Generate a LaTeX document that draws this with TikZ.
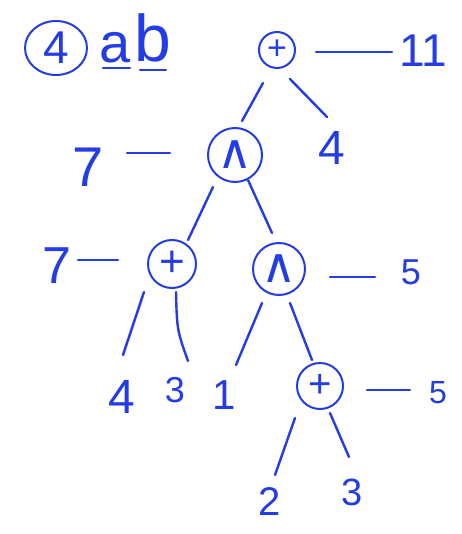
\documentclass[tikz,border=0pt]{standalone}
\usepackage{fontspec}
\setmainfont{Liberation Sans}
\newfontfamily\djv{DejaVu Sans}
\usetikzlibrary{shapes.geometric}
\definecolor{ink}{RGB}{35,60,228}
\newcommand{\fsz}[1]{\fontsize{#1}{#1}\selectfont}
\tikzset{
  ink/.style={draw=ink, line width=2.4pt, line cap=round},
  txt/.style={text=ink, inner sep=0pt, anchor=center},
  opnode/.style={circle, draw=ink, line width=2pt, inner sep=0pt, text=ink},
}
\begin{document}
\begin{tikzpicture}[x=1pt,y=-1pt]
\useasboundingbox (0,0) rectangle (461,534);
% header
\node[ellipse, draw=ink, line width=2pt, minimum width=62pt, minimum height=54pt, inner sep=0pt, text=ink] (c4) at (56,48) {\fsz{46}4};
\node[txt] (la) at (115,48) {\fsz{56}a};
\node[txt] (lb) at (153,38) {\fsz{66}b};
\draw[ink] ([shift={(-12,20)}]la.center) -- ([shift={(15,20)}]la.center);
\draw[ink] ([shift={(-13,32)}]lb.center) -- ([shift={(13,32)}]lb.center);
% operator nodes
\node[opnode, minimum size=36pt] (p0) at (277,50) {\fsz{34}+};
\node[opnode, minimum size=54pt] (a1) at (235,155) {\djv\fsz{48}∧};
\node[opnode, minimum size=48pt] (p1) at (172,264) {\fsz{44}+};
\node[opnode, minimum size=52pt] (a2) at (279,269) {\djv\fsz{48}∧};
\node[opnode, minimum size=46pt] (p2) at (320,386) {\fsz{40}+};
% value labels
\node[txt] (n11) at (423,51) {\fsz{46}11};
\node[txt] (n4a) at (332,148) {\fsz{48}4};
\node[txt] (n7a) at (88,167) {\fsz{56}7};
\node[txt] (n7b) at (57,266) {\fsz{52}7};
\node[txt] (n5a) at (411,272) {\fsz{36}5};
\node[txt] (n5b) at (438,393) {\fsz{32}5};
% leaves
\node[txt] (l4) at (122,397) {\fsz{48}4};
\node[txt] (l3) at (175,390) {\fsz{36}3};
\node[txt] (l1) at (224,395) {\fsz{42}1};
\node[txt] (l2) at (270,502) {\fsz{40}2};
\node[txt] (l3b) at (352,492) {\fsz{38}3};
% edges
\draw[ink] ([shift={(-14,33)}]p0.center) -- ([shift={(7,-34)}]a1.center);
\draw[ink] ([shift={(13,29)}]p0.center) -- ([shift={(-5,-31)}]n4a.center);
\draw[ink] ([shift={(39,2)}]p0.center) -- ([shift={(-31,1)}]n11.center);
\draw[ink] ([shift={(-65,-2)}]a1.center) -- ([shift={(39,-14)}]n7a.center);
\draw[ink] ([shift={(-22,32)}]a1.center) -- ([shift={(16,-24)}]p1.center);
\draw[ink] ([shift={(13,25)}]a1.center) -- ([shift={(-7,-36)}]a2.center);
\draw[ink] ([shift={(-54,-4)}]p1.center) -- ([shift={(21,-6)}]n7b.center);
\draw[ink] ([shift={(-28,28)}]p1.center) -- ([shift={(1,-42)}]l4.center);
\draw[ink] ([shift={(4,28)}]p1.center) .. controls ([shift={(5,66)}]p1.center) .. ([shift={(13,-29)}]l3.center);
\draw[ink] ([shift={(51,8)}]a2.center) -- ([shift={(-36,5)}]n5a.center);
\draw[ink] ([shift={(-17,34)}]a2.center) -- ([shift={(12,-30)}]l1.center);
\draw[ink] ([shift={(11,34)}]a2.center) -- ([shift={(-8,-26)}]p2.center);
\draw[ink] ([shift={(47,4)}]p2.center) -- ([shift={(-28,-3)}]n5b.center);
\draw[ink] ([shift={(-25,32)}]p2.center) -- ([shift={(5,-27)}]l2.center);
\draw[ink] ([shift={(10,27)}]p2.center) -- ([shift={(-3,-35)}]l3b.center);
\end{tikzpicture}
\end{document}
